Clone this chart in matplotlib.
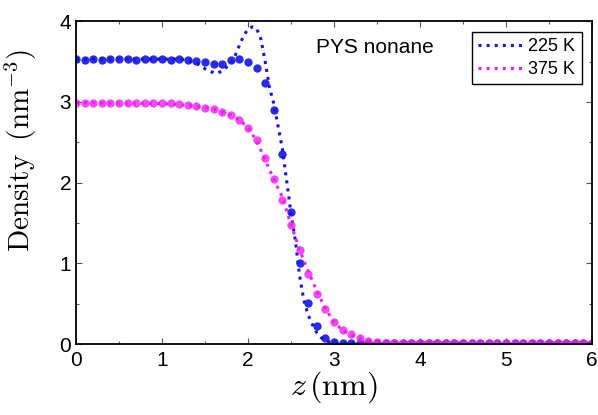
import matplotlib.pyplot as plt
import numpy as np

plt.rcParams['mathtext.fontset'] = 'cm'
plt.rcParams['font.family'] = ['Liberation Sans', 'DejaVu Sans']

# Simulation points (every 0.1 nm)
z_sim = np.round(np.arange(0, 61) * 0.1, 2)
sim_225 = [3.53, 3.52, 3.53, 3.52, 3.53, 3.53, 3.53, 3.52, 3.53, 3.53,
           3.53, 3.52, 3.53, 3.52, 3.51, 3.49, 3.47, 3.47, 3.52, 3.53,
           3.49, 3.42, 3.23, 2.90, 2.35, 1.63, 1.00, 0.51, 0.22, 0.08,
           0.03, 0.015] + [0.01] * 29
sim_375 = [2.99, 2.99, 2.99, 2.99, 2.99, 2.99, 2.98, 2.99, 2.98, 2.98,
           2.98, 2.98, 2.97, 2.96, 2.95, 2.93, 2.91, 2.88, 2.84, 2.78,
           2.68, 2.53, 2.30, 2.05, 1.78, 1.48, 1.17, 0.87, 0.62, 0.43,
           0.27, 0.18, 0.12, 0.07, 0.04, 0.025] + [0.015] * 25

# Theory curves
z_225 = [0.0, 0.5, 1.0, 1.2, 1.3, 1.4, 1.5, 1.6, 1.65, 1.7, 1.8, 1.85, 1.9,
         1.95, 2.0, 2.05, 2.1, 2.15, 2.2, 2.25, 2.3, 2.35, 2.4, 2.45, 2.5,
         2.55, 2.6, 2.65, 2.7, 2.75, 2.8, 2.85, 2.9, 3.0, 3.2, 6.0]
th_225 = [3.53, 3.53, 3.53, 3.53, 3.52, 3.48, 3.41, 3.36, 3.36, 3.38, 3.48,
          3.57, 3.70, 3.82, 3.90, 3.93, 3.91, 3.78, 3.50, 3.18, 2.98, 2.70,
          2.42, 2.02, 1.62, 1.29, 0.85, 0.54, 0.36, 0.24, 0.14, 0.08, 0.04,
          0.015, 0.01, 0.01]
z_375 = [0.0, 1.0, 1.4, 1.6, 1.8, 1.9, 2.0, 2.1, 2.2, 2.3, 2.4, 2.5, 2.6,
         2.7, 2.8, 2.9, 3.0, 3.1, 3.2, 3.3, 3.4, 3.5, 3.7, 6.0]
th_375 = [2.99, 2.98, 2.95, 2.91, 2.84, 2.78, 2.68, 2.52, 2.28, 2.04, 1.82,
          1.48, 1.17, 0.90, 0.66, 0.44, 0.27, 0.17, 0.11, 0.07, 0.045, 0.025,
          0.015, 0.015]

blue = '#1414e6'
magenta = '#f01ef0'

fig = plt.figure(figsize=(5.98, 4.15), dpi=100)
ax = fig.add_axes([0.127, 0.171, 0.863, 0.778])

ax.plot(z_sim, sim_225, 'o', color=blue, ms=6, mec='none', alpha=0.9)
ax.plot(z_225, th_225, ':', color=blue, lw=2.2, label='225 K')
ax.plot(z_sim, sim_375, 'o', color=magenta, ms=6, mec='none', alpha=0.8)
ax.plot(z_375, th_375, ':', color=magenta, lw=2.2, label='375 K')

ax.set_xlim(0, 6)
ax.set_ylim(0, 4)
ax.set_xticks(range(0, 7))
ax.set_yticks(range(0, 5))
ax.set_xticks(np.arange(0.5, 6, 1), minor=True)
ax.set_yticks(np.arange(0.5, 4, 1), minor=True)
ax.tick_params(which='both', direction='in', top=True, right=True,
               labelsize=15, width=0.8, color='#555555')
ax.tick_params(axis='x', pad=5)
ax.tick_params(which='major', length=4)
ax.tick_params(which='minor', length=2.5)
for spine in ax.spines.values():
    spine.set_linewidth(1.3)

ax.set_xlabel(r'$z\,\mathrm{(nm)}$', fontsize=23, labelpad=0)
ax.set_ylabel(r'$\mathrm{Density}\;\;\mathrm{(nm}^{-3}\mathrm{)}$', fontsize=21)
ax.yaxis.set_label_coords(-0.072, 0.6)

ax.text(3.48, 3.67, 'PYS nonane', fontsize=15, ha='center', va='center')

leg = ax.legend(loc='upper right', bbox_to_anchor=(0.98, 0.966),
                borderaxespad=0, fontsize=13, handlelength=2.5,
                handletextpad=0.3, labelspacing=0.3, borderpad=0.35,
                fancybox=False, framealpha=1, edgecolor='black')
leg.get_frame().set_linewidth(1.0)

fig.savefig('out.png', dpi=100)
